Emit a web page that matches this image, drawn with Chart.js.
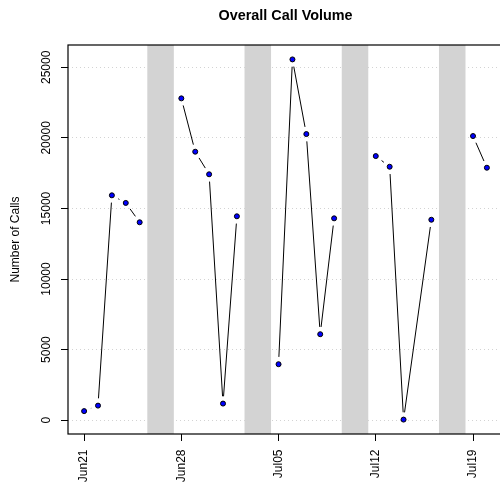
<!DOCTYPE html>
<html>
<head>
<meta charset="utf-8">
<script src="https://cdn.jsdelivr.net/npm/chart.js@4.4.1/dist/chart.umd.min.js"></script>
<style>
  html, body { margin: 0; padding: 0; background: #fff; overflow: hidden; }
  #wrap { width: 500px; height: 486px; overflow: hidden; position: relative; }
  canvas { display: block; }
</style>
</head>
<body>
<div id="wrap"><canvas id="c" width="510" height="486"></canvas></div>
<script>
// Daily call counts; weekends are null (no line across them), Jul 15 has no record.
const dates = [
  '2010-06-21', '2010-06-22', '2010-06-23', '2010-06-24', '2010-06-25', '2010-06-26', '2010-06-27',
  '2010-06-28', '2010-06-29', '2010-06-30', '2010-07-01', '2010-07-02', '2010-07-03', '2010-07-04',
  '2010-07-05', '2010-07-06', '2010-07-07', '2010-07-08', '2010-07-09', '2010-07-10', '2010-07-11',
  '2010-07-12', '2010-07-13', '2010-07-14', '2010-07-16', '2010-07-17', '2010-07-18',
  '2010-07-19', '2010-07-20'
];
const calls = [
  640, 1030, 15930, 15390, 14020, null, null,
  22800, 19020, 17420, 1175, 14445, null, null,
  3965, 25560, 20270, 6090, 14300, null, null,
  18710, 17955, 40, 14200, null, null,
  20130, 17885
];
const tickDates = ['2010-06-21', '2010-06-28', '2010-07-05', '2010-07-12', '2010-07-19'];
const tickLabels = ['Jun21', 'Jun28', 'Jul05', 'Jul12', 'Jul19'];
const yTicks = [0, 5000, 10000, 15000, 20000, 25000];

const DAY = 86400000;
const t0 = Date.parse(dates[0]);
const dayOf = d => (Date.parse(d) - t0) / DAY;

const xs = dates.map(dayOf);
const points = xs.map((x, i) => ({ x: x, y: calls[i] }));

// axis ranges padded by 4% on each side
const vals = calls.filter(v => v !== null);
const yLo = Math.min(...vals), yHi = Math.max(...vals);
const yPad = 0.04 * (yHi - yLo);
const xLo = xs[0], xHi = xs[xs.length - 1];
const xPad = 0.04 * (xHi - xLo);

const FONT = '"Liberation Sans", Arial, Helvetica, sans-serif';
Chart.defaults.font.family = FONT;
Chart.defaults.font.size = 12;
Chart.defaults.color = '#000';

// grey bands behind each Saturday–Sunday pair
const weekendBands = {
  id: 'weekendBands',
  beforeDraw(chart) {
    const { ctx, chartArea: a, scales: { x } } = chart;
    ctx.save();
    ctx.fillStyle = '#d3d3d3';
    dates.forEach(d => {
      if (new Date(d).getUTCDay() !== 6) return;
      const sat = dayOf(d);
      const l = x.getPixelForValue(sat - 0.45);
      const r = x.getPixelForValue(sat + 1.46);
      ctx.fillRect(l, a.top, r - l, a.bottom - a.top);
    });
    ctx.restore();
  }
};

// connecting segments with a small gap around each point
const gappedLines = {
  id: 'gappedLines',
  beforeDatasetsDraw(chart) {
    const { ctx } = chart;
    const pts = chart.getDatasetMeta(0).data;
    const gap = 7.3;
    ctx.save();
    ctx.strokeStyle = '#000';
    ctx.lineWidth = 1;
    ctx.beginPath();
    for (let i = 1; i < pts.length; i++) {
      if (calls[i - 1] === null || calls[i] === null) continue;
      const a = pts[i - 1], b = pts[i];
      const dx = b.x - a.x, dy = b.y - a.y;
      const len = Math.hypot(dx, dy);
      if (len <= 2 * gap) continue;
      const ux = dx / len, uy = dy / len;
      ctx.moveTo(a.x + ux * gap, a.y + uy * gap);
      ctx.lineTo(b.x - ux * gap, b.y - uy * gap);
    }
    ctx.stroke();
    ctx.restore();
  }
};

// plot frame and main title
const frameAndTitle = {
  id: 'frameAndTitle',
  afterDraw(chart) {
    const { ctx, chartArea: a } = chart;
    ctx.save();
    ctx.strokeStyle = '#000';
    ctx.lineWidth = 1.2;
    ctx.strokeRect(a.left, a.top, a.right - a.left, a.bottom - a.top);
    ctx.fillStyle = '#000';
    ctx.font = 'bold 14.4px ' + FONT;
    ctx.textAlign = 'center';
    ctx.textBaseline = 'alphabetic';
    ctx.fillText('Overall Call Volume', (a.left + a.right) / 2, 20);
    ctx.restore();
  }
};

new Chart(document.getElementById('c'), {
  type: 'line',
  data: {
    datasets: [{
      data: points,
      showLine: false,
      pointRadius: 2.5,
      pointHoverRadius: 2.5,
      pointBackgroundColor: '#0000ff',
      pointBorderColor: '#000',
      pointBorderWidth: 1
    }]
  },
  options: {
    responsive: false,
    animation: false,
    devicePixelRatio: 1,
    layout: { padding: { top: 45, right: 7, left: 0, bottom: 0 } },
    plugins: { legend: { display: false }, title: { display: false }, tooltip: { enabled: false } },
    events: [],
    scales: {
      x: {
        type: 'linear',
        min: xLo - xPad,
        max: xHi + xPad,
        afterBuildTicks(s) { s.ticks = tickDates.map(d => ({ value: dayOf(d) })); },
        afterFit(s) { s.height = 52; },
        ticks: {
          autoSkip: false,
          minRotation: 90,
          maxRotation: 90,
          padding: 8.5,
          color: '#000',
          font: { size: 12 },
          callback: (v, i) => tickLabels[i]
        },
        grid: {
          drawOnChartArea: false,
          drawTicks: true,
          tickLength: 7,
          tickColor: '#000',
          tickWidth: 1
        },
        border: { display: false }
      },
      y: {
        type: 'linear',
        min: yLo - yPad,
        max: yHi + yPad,
        afterBuildTicks(s) { s.ticks = yTicks.map(v => ({ value: v })); },
        afterFit(s) { s.width = 68; },
        ticks: {
          autoSkip: false,
          minRotation: 90,
          maxRotation: 90,
          crossAlign: 'center',
          padding: -2.5,
          color: '#000',
          font: { size: 12 },
          callback: v => String(v)
        },
        grid: {
          color: '#d3d3d3',
          lineWidth: 1,
          drawTicks: true,
          tickLength: 7,
          tickColor: '#000',
          tickWidth: 1,
          tickBorderDash: []
        },
        border: { display: false, dash: [1, 3] },
        title: {
          display: true,
          text: 'Number of Calls',
          color: '#000',
          font: { size: 12 },
          padding: { top: 8.3, bottom: 0 }
        }
      }
    }
  },
  plugins: [weekendBands, gappedLines, frameAndTitle]
});
</script>
</body>
</html>
